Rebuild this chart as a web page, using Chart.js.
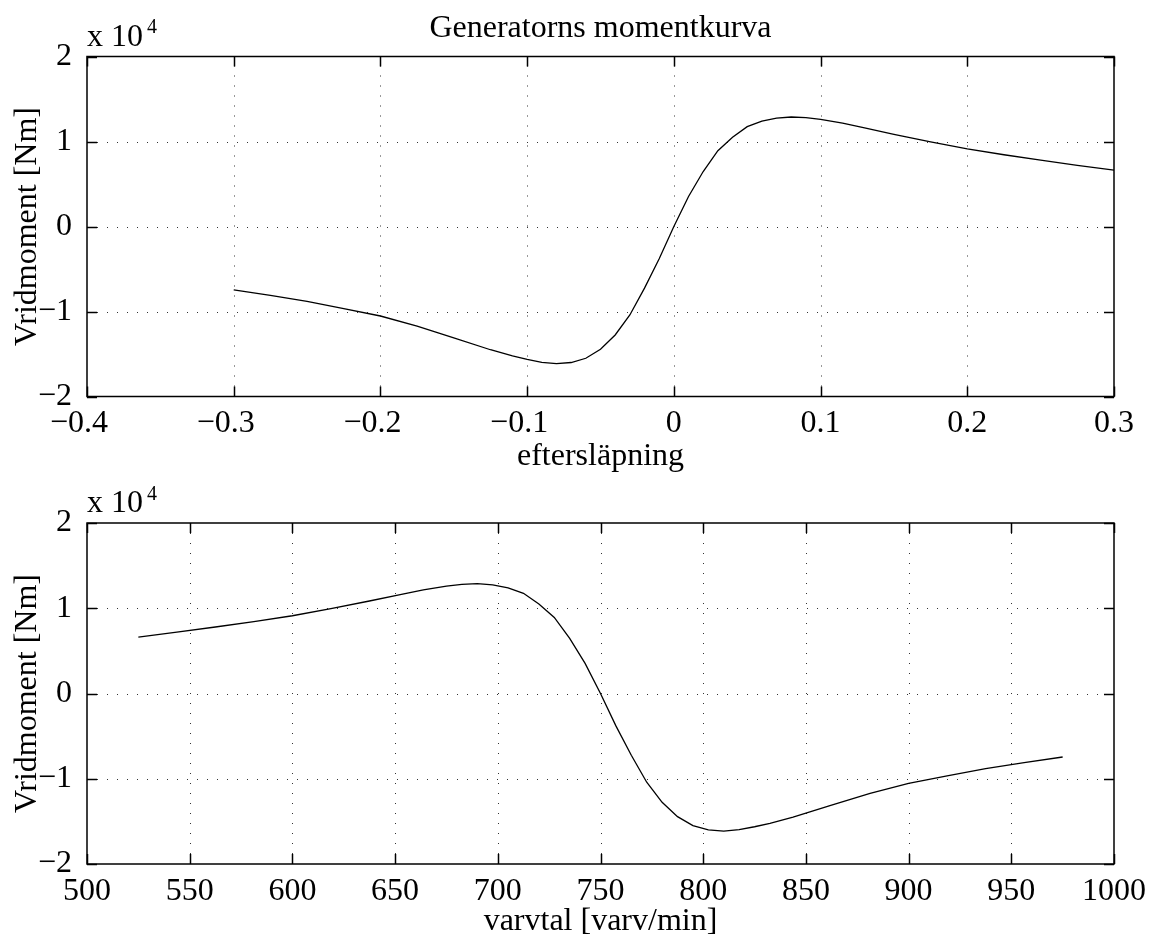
<!DOCTYPE html>
<html>
<head>
<meta charset="utf-8">
<script src="https://cdn.jsdelivr.net/npm/chart.js@4.4.1/dist/chart.umd.min.js"></script>
<style>
  body { margin: 0; background: #fff; }
  #wrap { position: relative; width: 1152px; height: 938px; overflow: hidden; }
  .box { position: absolute; left: 0; width: 1152px; }
</style>
</head>
<body>
<div id="wrap">
  <div class="box" style="top:0;height:500px"><canvas id="slipChart"></canvas></div>
  <div class="box" style="top:469px;height:480px"><canvas id="speedChart"></canvas></div>
</div>
<script>
// eftersläpning (slip)
var slip = [-0.3, -0.275, -0.25, -0.225, -0.2, -0.175, -0.15, -0.125, -0.11, -0.1,
            -0.09, -0.08, -0.07, -0.06, -0.05, -0.04, -0.03, -0.02, -0.01, 0,
            0.01, 0.02, 0.03, 0.04, 0.05, 0.06, 0.07, 0.08, 0.09, 0.1,
            0.115, 0.13, 0.15, 0.175, 0.2, 0.225, 0.25, 0.275, 0.3];
// varvtal [varv/min] for the same points
var speed = [975, 956.25, 937.5, 918.75, 900, 881.25, 862.5, 843.75, 832.5, 825,
             817.5, 810, 802.5, 795, 787.5, 780, 772.5, 765, 757.5, 750,
             742.5, 735, 727.5, 720, 712.5, 705, 697.5, 690, 682.5, 675,
             663.75, 652.5, 637.5, 618.75, 600, 581.25, 562.5, 543.75, 525];
// vridmoment [Nm]
var torque = [-7450, -8100, -8800, -9650, -10530, -11720, -13100, -14500, -15230, -15630,
              -15980, -16140, -16000, -15500, -14450, -12760, -10410, -7250, -3800, 0,
              3530, 6470, 8920, 10500, 11750, 12400, 12750, 12880, 12800, 12600,
              12150, 11600, 10850, 9950, 9120, 8440, 7800, 7190, 6620];

var slipTicks = [-0.4, -0.3, -0.2, -0.1, 0, 0.1, 0.2, 0.3];
var speedTicks = [500, 550, 600, 650, 700, 750, 800, 850, 900, 950, 1000];
var torqueTicks = [-20000, -10000, 0, 10000, 20000];

var FONT = '"Liberation Serif", "Times New Roman", serif';
Chart.defaults.font.family = FONT;
Chart.defaults.font.size = 32;
Chart.defaults.color = '#000';

function minus(v) {
  return String(v).replace('-', '\u2212');
}

// matlab-like box: dotted grid, inward ticks on all sides, "x 10^4", title
var matlabBox = {
  id: 'matlabBox',
  beforeDatasetsDraw: function(chart) {
    var a = chart.chartArea, ctx = chart.ctx;
    var xs = chart.scales.x, ys = chart.scales.y;
    ctx.save();
    ctx.strokeStyle = '#333';
    ctx.lineWidth = 1;
    ctx.setLineDash([1, 9]);
    xs.ticks.forEach(function(t) {
      var px = Math.round(xs.getPixelForValue(t.value)) + 0.5;
      if (px > a.left + 2 && px < a.right - 2) {
        ctx.beginPath(); ctx.moveTo(px, a.bottom); ctx.lineTo(px, a.top); ctx.stroke();
      }
    });
    ys.ticks.forEach(function(t) {
      var py = Math.round(ys.getPixelForValue(t.value)) + 0.5;
      if (py > a.top + 2 && py < a.bottom - 2) {
        ctx.beginPath(); ctx.moveTo(a.left, py); ctx.lineTo(a.right, py); ctx.stroke();
      }
    });
    ctx.restore();
  },
  afterDraw: function(chart, args, opts) {
    var a = chart.chartArea, ctx = chart.ctx;
    var xs = chart.scales.x, ys = chart.scales.y;
    var tl = 10;
    ctx.save();
    ctx.strokeStyle = '#000';
    ctx.lineWidth = 1.5;
    ctx.setLineDash([]);
    ctx.strokeRect(a.left, a.top, a.right - a.left, a.bottom - a.top);
    ctx.beginPath();
    xs.ticks.forEach(function(t) {
      var px = Math.round(xs.getPixelForValue(t.value)) + 0.5;
      ctx.moveTo(px, a.bottom); ctx.lineTo(px, a.bottom - tl);
      ctx.moveTo(px, a.top); ctx.lineTo(px, a.top + tl);
    });
    ys.ticks.forEach(function(t) {
      var py = Math.round(ys.getPixelForValue(t.value)) + 0.5;
      ctx.moveTo(a.left, py); ctx.lineTo(a.left + tl, py);
      ctx.moveTo(a.right, py); ctx.lineTo(a.right - tl, py);
    });
    ctx.stroke();
    ctx.fillStyle = '#000';
    ctx.textBaseline = 'alphabetic';
    // title centred over the axes box
    if (opts.title) {
      ctx.font = '32px ' + FONT;
      ctx.textAlign = 'center';
      ctx.fillText(opts.title, (a.left + a.right) / 2, 37);
    }
    // exponent label
    ctx.textAlign = 'left';
    ctx.font = '32px ' + FONT;
    ctx.fillText('x 10', a.left, a.top - 11);
    var w = ctx.measureText('x 10').width;
    ctx.font = '20px ' + FONT;
    ctx.fillText('4', a.left + w + 4, a.top - 23.5);
    ctx.restore();
  }
};

function makeChart(id, xs, xTicks, xTitle, opts) {
  var points = xs.map(function(x, i) { return { x: x, y: torque[i] }; });
  return new Chart(document.getElementById(id), {
    type: 'line',
    data: {
      datasets: [{
        data: points,
        borderColor: '#000',
        borderWidth: 1.3,
        pointRadius: 0,
        tension: 0,
        fill: false
      }]
    },
    options: {
      responsive: true,
      maintainAspectRatio: false,
      animation: false,
      layout: { padding: { left: 0, right: 38, top: opts.padTop, bottom: 0 } },
      plugins: {
        legend: { display: false },
        tooltip: { enabled: false },
        matlabBox: { title: opts.title }
      },
      scales: {
        x: {
          type: 'linear',
          min: xTicks[0],
          max: xTicks[xTicks.length - 1],
          afterBuildTicks: function(s) { s.ticks = xTicks.map(function(v) { return { value: v }; }); },
          afterFit: function(s) { s.height = opts.xHeight; },
          grid: { display: false },
          border: { display: false },
          ticks: {
            autoSkip: false, maxRotation: 0, padding: 0,
            // keep the digits centred under the tick, minus sign hanging left
            callback: function(v) { return v < 0 ? minus(v) + '\u2002' : minus(v); }
          },
          title: { display: true, text: xTitle, padding: { top: 0, bottom: opts.xTitlePad } }
        },
        y: {
          min: -20000,
          max: 20000,
          afterBuildTicks: function(s) { s.ticks = torqueTicks.map(function(v) { return { value: v }; }); },
          afterFit: function(s) { s.width = 87; },
          grid: { display: false },
          border: { display: false },
          ticks: {
            padding: 7,
            callback: function(v) { return minus(v / 10000); }
          },
          title: { display: true, text: 'Vridmoment [Nm]', padding: { top: 8, bottom: 0 } }
        }
      }
    },
    plugins: [matlabBox]
  });
}

makeChart('slipChart', slip, slipTicks, 'eftersläpning',
  { title: 'Generatorns momentkurva', padTop: 56.5, xHeight: 103.5, xTitlePad: 23.8 });
makeChart('speedChart', speed, speedTicks, 'varvtal [varv/min]',
  { padTop: 54, xHeight: 85, xTitlePad: 7.8 });
</script>
</body>
</html>
